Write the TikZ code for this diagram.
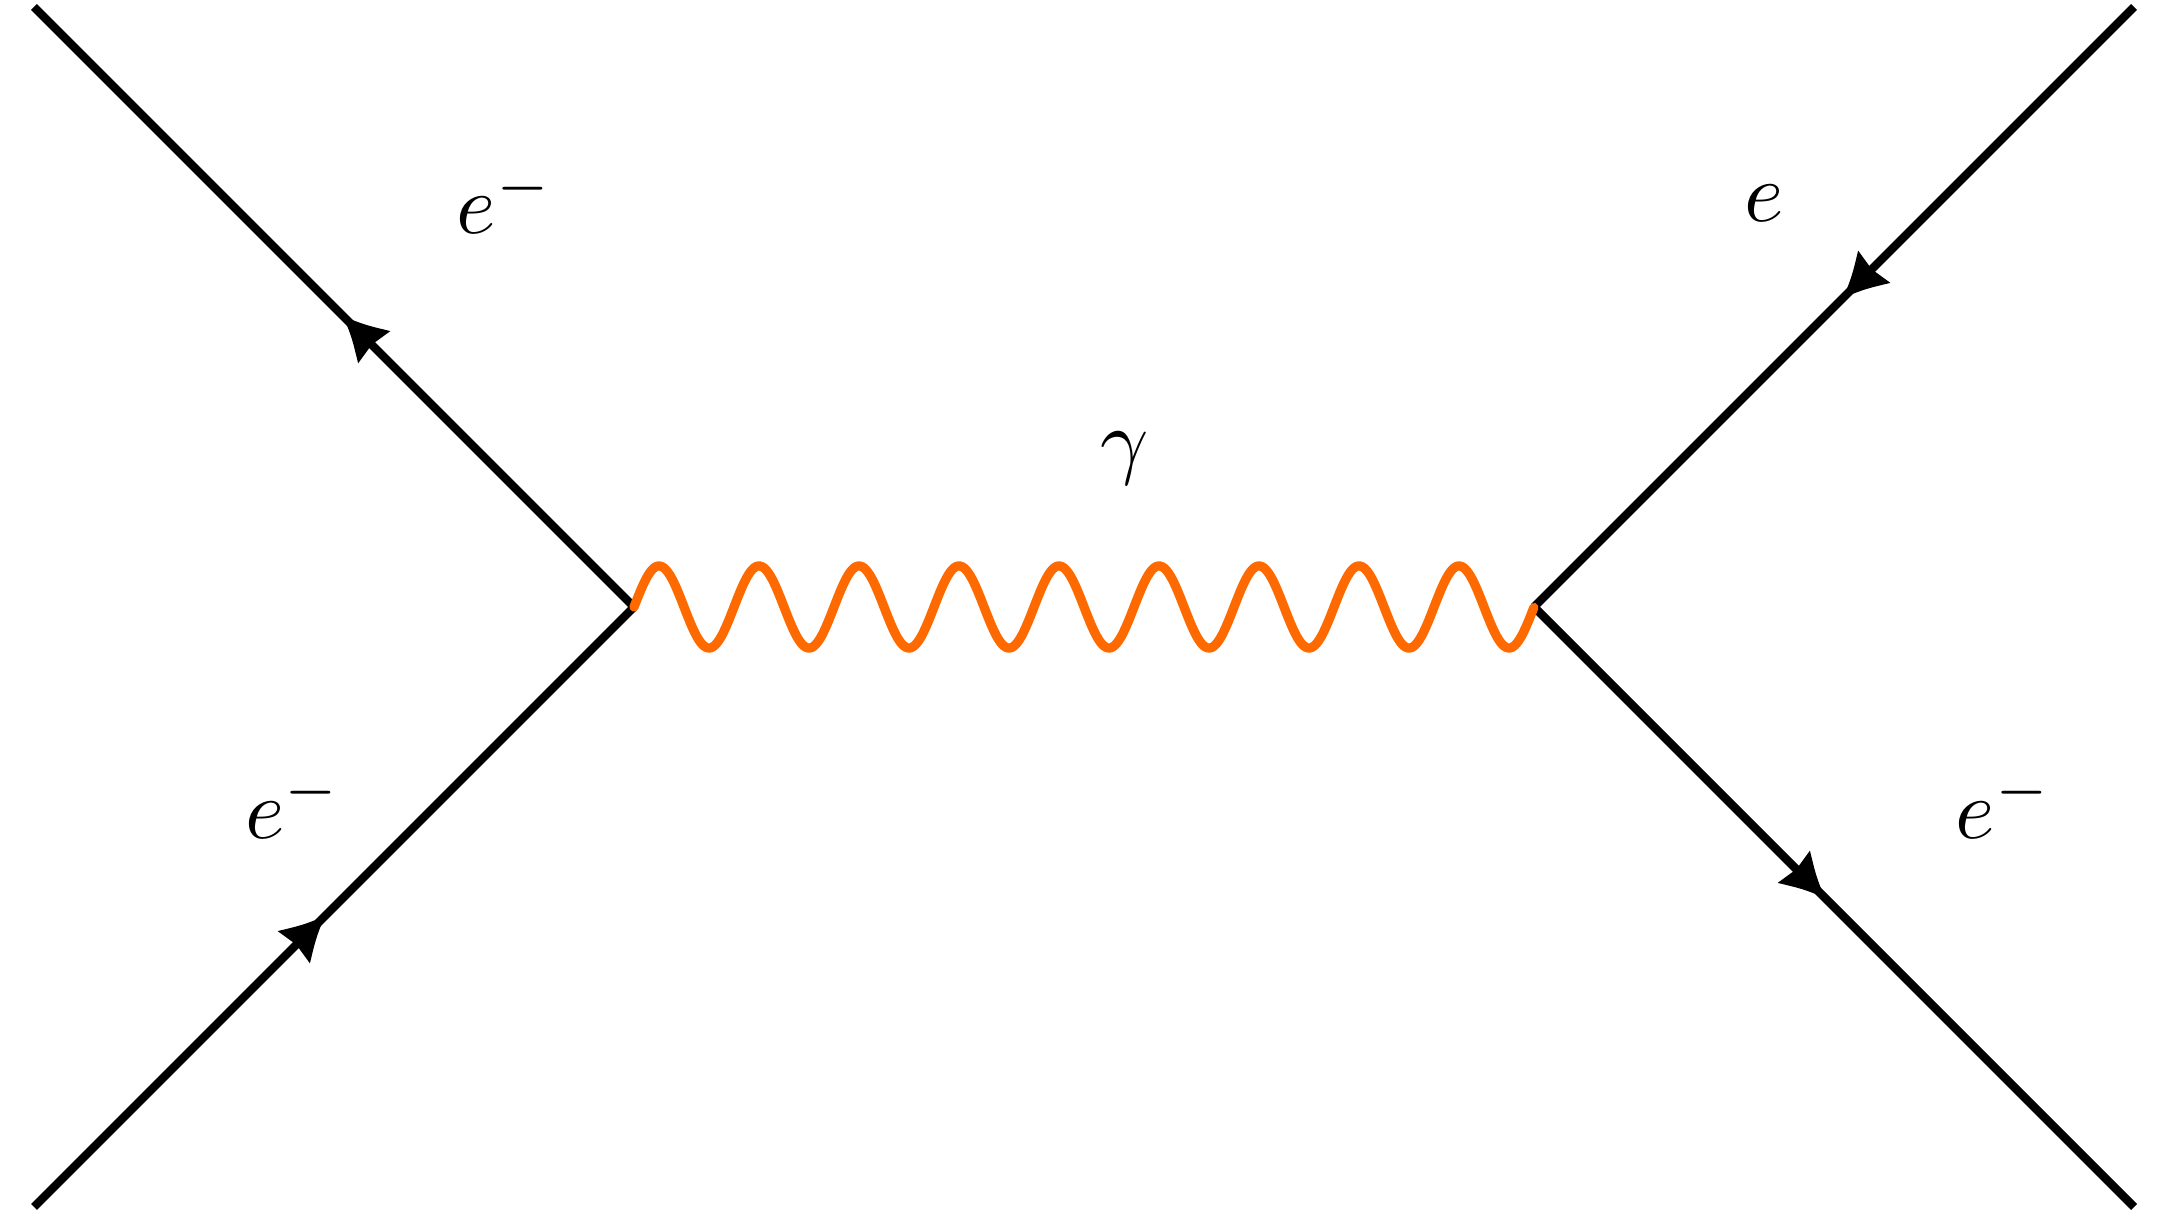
\documentclass[tikz,border=0pt]{standalone}
\usepackage{amsmath,amssymb}
\usepackage{xcolor}
\usepackage{tikz}
\usetikzlibrary{decorations.markings}
\definecolor{photonorange}{RGB}{255,106,0}
\tikzset{
    fermion/.style={line width=1pt, draw=black,
                    decoration={markings, mark=at position 0.485 with {
                      \fill[black] (0,0) .. controls (-0.09cm,0.04cm) .. (-0.18cm,0.095cm)
                        -- (-0.165cm,0) -- (-0.18cm,-0.095cm)
                        .. controls (-0.09cm,-0.04cm) .. (0,0);}},
                    postaction={decorate}},
    photon/.style={line width=1.1pt, draw=photonorange, line cap=round},
    plabel/.style={inner sep=0pt, font=\normalsize}
}

\begin{document}
\begin{tikzpicture}[x=2.5cm, y=2.5cm]
\useasboundingbox (-1.0567,-1.0167) rectangle (2.54,1.0117);

% ── Vertices and external points ──────────────────────────────────────
\coordinate (lv) at (0,0);
\coordinate (rv) at (1.5,0);
\coordinate (inl)  at (-1,-1);
\coordinate (outl) at (-1, 1);
\coordinate (inr)  at (2.5, 1);
\coordinate (outr) at (2.5,-1);

% ── Labels ────────────────────────────────────────────────────────────
\node[plabel] at (-0.215, 0.678) (lblol) {$e^{-}$};
\node[plabel] at (-0.567,-0.330) (lblil) {$e^{-}$};
\node[plabel] at ( 1.884, 0.672) (lblir) {$e$};
\node[plabel] at ( 2.283,-0.330) (lblor) {$e^{-}$};
\node[plabel] at ( 0.818, 0.248) (lblg)  {$\gamma$};

% ── Fermion lines ─────────────────────────────────────────────────────
\draw[fermion] (inl) -- (lv);
\draw[fermion] (lv)  -- (outl);
\draw[fermion] (inr) -- (rv);
\draw[fermion] (rv)  -- (outr);

% ── Photon (9 periods from lv to rv) ─────────────────────────────────
\draw[photon, shift={(lv)}] plot[domain=0:1.5, samples=541, smooth]
    (\x, {0.0684*sin(\x*6*360)});
\end{tikzpicture}
\end{document}
